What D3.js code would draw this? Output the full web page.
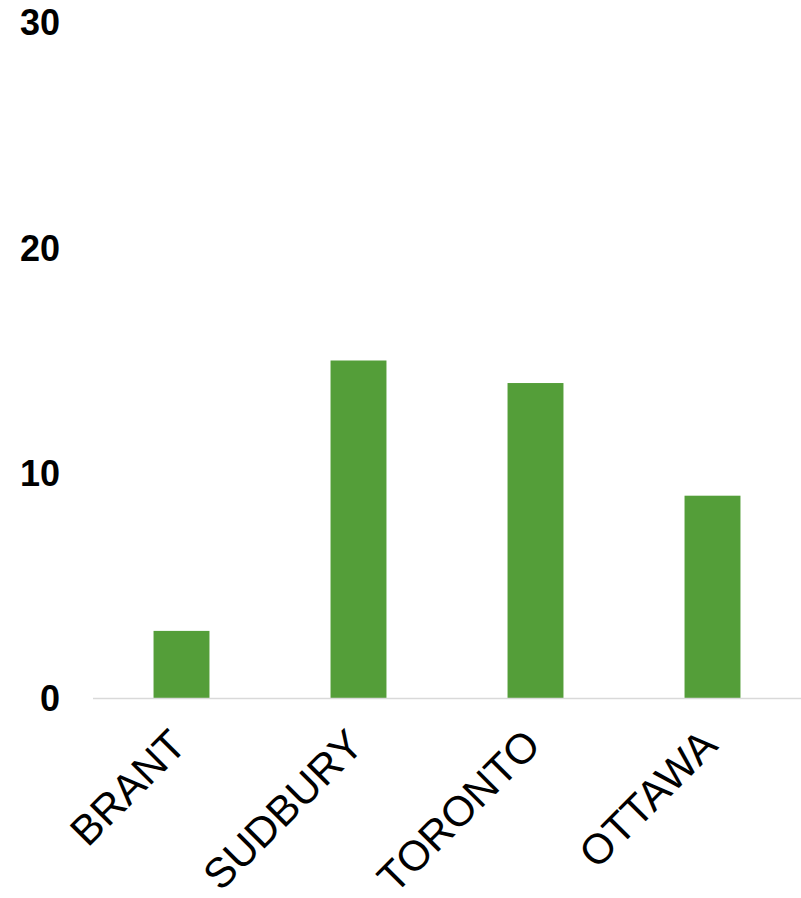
<!DOCTYPE html>
<html><head><meta charset="utf-8">
<script src="https://cdn.jsdelivr.net/npm/d3@7"></script>
<style>html,body{margin:0;padding:0;background:#fff;}svg{display:block;}</style>
</head><body>
<script>
const categories = ["BRANT", "SUDBURY", "TORONTO", "OTTAWA"];
const values = [3, 15, 14, 9];
const yTicks = [0, 10, 20, 30];

const W = 801, H = 898;
const svg = d3.select("body").append("svg").attr("width", W).attr("height", H);

const x = d3.scaleBand().domain(categories).range([93, 801]).paddingInner(0.684).paddingOuter(0.342);
const y = d3.scaleLinear().domain([0, 30]).range([698.5, 22.5]);

// bars
svg.selectAll("rect.bar").data(values).enter().append("rect")
  .attr("class", "bar")
  .attr("x", (d, i) => x(categories[i]))
  .attr("width", x.bandwidth())
  .attr("y", d => y(d))
  .attr("height", d => y(0) - y(d))
  .attr("fill", "#549e39");

// baseline
svg.append("line").attr("x1", 93).attr("x2", 801).attr("y1", y(0)).attr("y2", y(0))
  .attr("stroke", "#d9d9d9").attr("stroke-width", 1.5);

// y labels
svg.selectAll("text.ylab").data(yTicks).enter().append("text")
  .attr("class", "ylab")
  .attr("x", 60).attr("y", d => y(d)).attr("dy", "0.36em")
  .attr("text-anchor", "end")
  .attr("font-family", "Liberation Sans, Arial, sans-serif")
  .attr("font-weight", "bold").attr("font-size", 36)
  .attr("fill", "#000")
  .text(d => d);

// x labels
svg.selectAll("text.xlab").data(categories).enter().append("text")
  .attr("class", "xlab")
  .attr("transform", d => `translate(${x(d) + x.bandwidth() / 2 + 7},${y(0) + 49}) rotate(-45)`)
  .attr("text-anchor", "end")
  .attr("font-family", "Liberation Sans, Arial, sans-serif")
  .attr("font-size", 42)
  .attr("fill", "#000")
  .text(d => d);
</script>
</body></html>
